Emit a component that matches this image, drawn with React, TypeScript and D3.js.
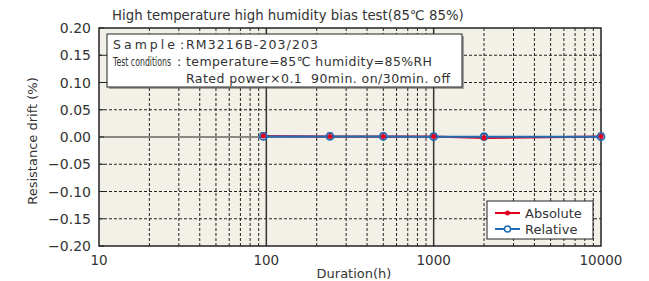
import React from "react";
import * as d3 from "d3";

const durations = [96, 240, 500, 1000, 2000, 10000];
const absoluteValues = [0.002, 0.001, 0.001, 0.001, -0.002, 0.001];
const absoluteUpper = [0.008, 0.007, 0.007, 0.006, 0.004, 0.007];
const relativeValues = [0.001, 0.001, 0.001, 0.0005, 0.0005, 0.0005];
const yTicks = [0.2, 0.15, 0.1, 0.05, 0, -0.05, -0.1, -0.15, -0.2];
const xTicks = [10, 100, 1000, 10000];
const seriesNames = ["Absolute", "Relative"];

const W = 649, H = 281;
const M = { left: 99, right: 48, top: 28, bottom: 35 };
const RED = "#e60020";
const BLUE = "#1f6db4";
const FONT = "'DejaVu Sans', 'Liberation Sans', Arial, sans-serif";

export default function App() {
  const x = d3.scaleLog().domain([10, 10000]).range([M.left, W - M.right]);
  const y = d3.scaleLinear().domain([-0.2, 0.2]).range([H - M.bottom, M.top]);
  const minor: number[] = [];
  [10, 100, 1000].forEach((d) => {
    for (let k = 2; k <= 9; k++) minor.push(d * k);
  });
  const line = d3
    .line<[number, number]>()
    .x((d) => x(d[0]))
    .y((d) => y(d[1]));
  const absPts = durations.map((d, i) => [d, absoluteValues[i]] as [number, number]);
  const relPts = durations.map((d, i) => [d, relativeValues[i]] as [number, number]);
  const x0 = x(10), x1 = x(10000), y0 = y(0.2), y1 = y(-0.2);
  const textCol = "#333";

  return (
    <svg width={W} height={H} style={{ position: "absolute", left: 0, top: 0, fontFamily: FONT }}>
      <rect x={0} y={0} width={W} height={H} fill="#fff" />
      <text x={112} y={20} fontSize={13.3} fill={textCol}>
        High temperature high humidity bias test(85℃ 85%)
      </text>
      <rect x={x0} y={y0} width={x1 - x0} height={y1 - y0} fill="#f3f0e7" />
      {minor.map((m) => (
        <line key={"vm" + m} x1={x(m)} x2={x(m)} y1={y0} y2={y1} stroke="#222" strokeWidth={1} strokeDasharray="3,2" />
      ))}
      {[100, 1000].map((m) => (
        <line key={"vM" + m} x1={x(m)} x2={x(m)} y1={y0} y2={y1} stroke="#333" strokeWidth={1.5} />
      ))}
      {yTicks
        .filter((t) => Math.abs(t) > 1e-9 && Math.abs(Math.abs(t) - 0.2) > 1e-9)
        .map((t) => (
          <line key={"h" + t} x1={x0} x2={x1} y1={y(t)} y2={y(t)} stroke="#222" strokeWidth={1} strokeDasharray="3,2" />
        ))}
      <line x1={x0} x2={x1} y1={y(0)} y2={y(0)} stroke="#222" strokeWidth={1.2} />
      <rect x={x0} y={y0} width={x1 - x0} height={y1 - y0} fill="none" stroke="#222" strokeWidth={1.5} />
      {yTicks.map((t) => (
        <g key={"yt" + t}>
          <line x1={x0} x2={x0 + 5} y1={y(t)} y2={y(t)} stroke="#222" strokeWidth={1} />
          <text x={x0 - 8} y={y(t) + 5} fontSize={14} textAnchor="end" fill={textCol}>
            {(t < 0 ? "\u2212" : "") + Math.abs(t).toFixed(2)}
          </text>
        </g>
      ))}
      {xTicks.map((t) => (
        <text key={"xt" + t} x={x(t)} y={H - 16} fontSize={13.5} textAnchor="middle" fill={textCol}>
          {t}
        </text>
      ))}
      <text x={354} y={H - 3} fontSize={13} textAnchor="middle" fill={textCol}>
        Duration(h)
      </text>
      <text transform={`translate(37,${(y0 + y1) / 2 + 4}) rotate(-90)`} fontSize={13} textAnchor="middle" fill={textCol}>
        Resistance drift (%)
      </text>

      {/* info box */}
      <rect x={109} y={36} width={355} height={53} fill="#555" opacity={0.5} />
      <rect x={107} y={34} width={355} height={53} fill="#fff" stroke="#222" strokeWidth={1} />
      <text x={113} y={49} fontSize={12.5} fill={textCol} textLength={62} lengthAdjust="spacing">
        Sample
      </text>
      <text x={180} y={49} fontSize={12.5} fill={textCol}>:</text>
      <text x={186} y={49} fontSize={12.5} fill={textCol} textLength={132} lengthAdjust="spacing">
        RM3216B-203/203
      </text>
      <text x={113} y={66} fontSize={11.5} fill={textCol} transform="translate(113,0) scale(0.68,1) translate(-113,0)">
        Test conditions
      </text>
      <text x={177} y={66} fontSize={12.5} fill={textCol}>:</text>
      <text x={186} y={66} fontSize={12.5} fill={textCol} textLength={246} lengthAdjust="spacing">
        temperature=85℃ humidity=85%RH
      </text>
      <text x={186} y={83} fontSize={12.5} fill={textCol} textLength={264} lengthAdjust="spacing" style={{ whiteSpace: "pre" }}>
        {"Rated power×0.1  90min. on/30min. off"}
      </text>

      {/* series */}
      {durations.map((d, i) => (
        <g key={"eb" + i} stroke={RED} strokeWidth={1}>
          <line x1={x(d)} x2={x(d)} y1={y(absoluteValues[i])} y2={y(absoluteUpper[i])} />
          <line x1={x(d) - 3} x2={x(d) + 3} y1={y(absoluteUpper[i])} y2={y(absoluteUpper[i])} />
        </g>
      ))}
      <path d={line(absPts) || ""} fill="none" stroke={RED} strokeWidth={2} />
      <path d={line(relPts) || ""} fill="none" stroke={BLUE} strokeWidth={2} />
      {relPts.map((p, i) => (
        <circle key={"rc" + i} cx={x(p[0])} cy={y(p[1])} r={3.5} fill="none" stroke={BLUE} strokeWidth={1.8} />
      ))}
      {absPts.map((p, i) => (
        <circle key={"ac" + i} cx={x(p[0])} cy={y(p[1])} r={2.5} fill={RED} />
      ))}

      {/* legend */}
      <rect x={487} y={201} width={106} height={38} fill="#fff" stroke="#222" strokeWidth={1} />
      <line x1={495} x2={520} y1={213} y2={213} stroke={RED} strokeWidth={2} />
      <circle cx={507.5} cy={213} r={2.5} fill={RED} />
      <text x={525} y={218} fontSize={13} fill={textCol}>{seriesNames[0]}</text>
      <line x1={495} x2={520} y1={229} y2={229} stroke={BLUE} strokeWidth={2} />
      <circle cx={507.5} cy={229} r={3} fill="#fff" stroke={BLUE} strokeWidth={1.5} />
      <text x={525} y={234} fontSize={13} fill={textCol}>{seriesNames[1]}</text>
    </svg>
  );
}
